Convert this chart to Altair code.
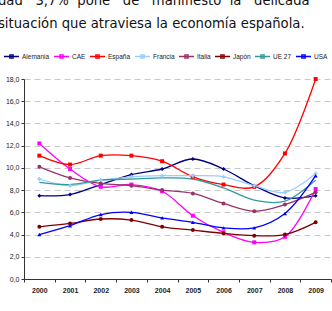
import altair as alt
import pandas as pd

years = ["2000", "2001", "2002", "2003", "2004", "2005", "2006", "2007", "2008", "2009"]
series = ["Alemania", "CAE", "España", "Francia", "Italia", "Japón", "UE 27", "USA"]
alemania = [7.5, 7.6, 8.5, 9.4, 9.9, 10.8, 9.9, 8.4, 7.3, 7.5]
cae = [12.2, 9.9, 8.3, 8.5, 7.9, 5.7, 4.2, 3.3, 3.8, 8.1]
espana = [11.1, 10.3, 11.1, 11.1, 10.6, 9.2, 8.5, 8.3, 11.3, 18.0]
francia = [9.0, 8.4, 8.9, 9.2, 9.3, 9.3, 9.2, 8.4, 7.8, 9.5]
italia = [10.1, 9.1, 8.6, 8.4, 8.0, 7.7, 6.8, 6.1, 6.7, 7.8]
japon = [4.7, 5.0, 5.4, 5.3, 4.7, 4.4, 4.1, 3.9, 4.0, 5.1]
ue27 = [8.7, 8.5, 8.9, 9.0, 9.1, 9.0, 8.2, 7.1, 7.0, 8.9]
usa = [4.0, 4.8, 5.8, 6.0, 5.5, 5.1, 4.6, 4.6, 5.9, 9.3]

colors = ["#000080", "#FF00FF", "#FF0000", "#99CCFF", "#993366", "#800000", "#339999", "#0000FF"]
shapes = ["diamond", "square", "square", "cross", "circle", "circle", "stroke", "triangle-up"]

sp4 = "\u00a0\u00a0 "
sp3 = "\u00a0 "
title_lines = [
    "dad" + sp4 + "3,7%" + sp3 + "pone" + sp4 + "de" + sp4 + "manifiesto" + sp3 + "la" + sp4 + "delicada",
    "situación que atraviesa la economía española.",
]

values = [alemania, cae, espana, francia, italia, japon, ue27, usa]
rows = []
for name, vals in zip(series, values):
    for yr, v in zip(years, vals):
        rows.append({"serie": name, "year": yr, "value": v})
df = pd.DataFrame(rows)

legend = alt.Legend(
    title=None,
    orient="none",
    legendX=-21,
    legendY=-31,
    direction="horizontal",
    columns=8,
    gridAlign="none",
    symbolType="M-1,0H1M-0.22,-0.22H0.22V0.22H-0.22Z",
    symbolSize=225,
    symbolStrokeWidth=1.3,
    labelFont="Liberation Sans",
    labelFontSize=6.5,
    labelColor="#222222",
    labelOffset=2,
    columnPadding=1,
)

x_enc = alt.X(
    "year:O",
    scale=alt.Scale(type="band", paddingInner=0, paddingOuter=0),
    axis=alt.Axis(
        title=None,
        labelAngle=0,
        labelFont="Liberation Sans",
        labelFontSize=7,
        labelFontWeight="bold",
        labelColor="#222222",
        tickBand="extent",
        tickSize=3,
        tickColor="#333333",
        domainColor="#333333",
        labelPadding=4,
        grid=False,
    ),
)
y_enc = alt.Y(
    "value:Q",
    scale=alt.Scale(domain=[0, 18], nice=False),
    axis=alt.Axis(
        title=None,
        values=[0, 2, 4, 6, 8, 10, 12, 14, 16, 18],
        labelExpr="replace(format(datum.value, '.1f'), '.', ',')",
        labelFont="Liberation Sans",
        labelFontSize=7,
        labelColor="#222222",
        tickSize=3,
        tickColor="#333333",
        domainColor="#333333",
        gridColor="#c8c8c8",
        gridDash=[6, 4],
        labelPadding=2,
    ),
)

base = alt.Chart(df).encode(x=x_enc, y=y_enc)

lines = base.mark_line(interpolate="catmull-rom", strokeWidth=1.3).encode(
    color=alt.Color("serie:N", scale=alt.Scale(domain=series, range=colors), legend=legend, sort=series)
)

point_layers = []
for name, col, shp in zip(series, colors, shapes):
    if shp == "stroke":
        continue
    point_layers.append(
        base.transform_filter(alt.datum.serie == name).mark_point(
            filled=True, size=16, shape=shp, color=col, opacity=1
        )
    )

chart = (
    alt.layer(lines, *point_layers)
    .properties(
        width=307,
        height=200,
        title=alt.TitleParams(
            text=title_lines,
            anchor="start",
            frame="group",
            orient="top",
            font="DejaVu Sans",
            fontSize=13.2,
            fontWeight="normal",
            color="#111111",
            baseline="bottom",
            lineHeight=23,
            offset=4,
            dx=-26,
        ),
    )
    .configure(
        autosize=alt.AutoSizeParams(type="none"),
        padding={"left": 24, "top": 79, "right": 1, "bottom": 32},
        background="white",
    )
    .configure_view(stroke=None)
)

chart.save("out.html", embed_options={"renderer": "svg", "actions": False})
